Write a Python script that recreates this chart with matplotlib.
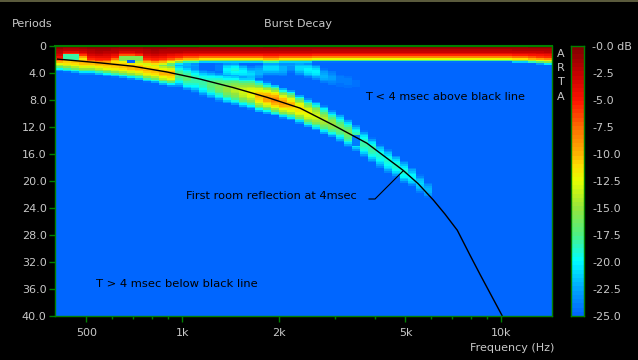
import numpy as np
import matplotlib
matplotlib.use("Agg")
import matplotlib.pyplot as plt
from matplotlib.colors import LinearSegmentedColormap
from matplotlib.lines import Line2D
from matplotlib.patches import Rectangle
from matplotlib.ticker import FixedLocator, NullFormatter, FixedFormatter

W, H = 638, 360
FONT = "DejaVu Sans"
GREEN = "#008000"
GREY = "#c8c8c8"

f_min, f_max = 398.4, 14400.0
n_cols = 62

# direct-sound band: depth (periods) at which it has decayed to -25 dB, per column
direct_edge = [3.3, 2.0, 2.0, 2.3, 3.3, 3.5, 3.4, 2.9, 2.2, 2.2, 2.4, 3.3, 3.5, 3.3, 3.0, 2.8,
               2.6, 2.6, 2.5, 2.5, 2.5, 2.5, 2.5, 2.5, 2.5, 2.5, 2.6, 2.6, 2.5, 2.5, 2.5, 2.5,
               2.4, 2.4, 2.4, 2.4, 2.4, 2.4, 2.4, 2.4, 2.4, 2.4, 2.4, 2.4, 2.4, 2.4, 2.4, 2.4,
               2.4, 2.4, 2.4, 2.4, 2.4, 2.4, 2.4, 2.4, 2.4, 2.5, 2.5, 2.6, 2.7, 2.8]

# reflection ridge, per column (47 columns, then nothing)
ridge_center = [1.93, 2.07, 2.22, 2.37, 2.37, 2.52, 2.67, 2.81, 2.96, 3.11, 3.26, 3.56, 3.70, 4.0, 4.15,
                4.3, 4.74, 5.04, 5.48, 5.78, 6.07, 6.37, 6.52, 6.81, 6.96, 7.41, 7.7, 8.0, 8.44, 8.74,
                9.33, 9.93, 10.37, 10.96, 11.56, 12.15, 12.89, 13.63, 14.52, 15.41, 16.3, 17.04, 17.78,
                18.67, 19.4, 20.44, 21.33]
ridge_half = [1.85] * 15 + [1.8, 1.9, 1.9, 2.0, 2.1, 2.2, 2.3, 2.4, 2.4, 2.5, 2.5, 2.4, 2.4, 2.3, 2.3,
              2.2, 2.2, 2.2, 2.2, 2.1, 2.1, 2.1, 2.0, 2.0, 1.9, 1.8, 1.8, 1.7, 1.7, 1.5, 1.4, 1.2]
ridge_peak = [-10.0] * 15 + [-17, -17, -18, -18, -17, -16, -15, -14, -13, -12, -10, -9, -8.5, -9, -10,
              -11, -12, -13, -14, -15, -16, -16, -17, -18, -18, -19, -19, -19, -19, -20, -21, -22]

# faint secondary streak between the band and the ridge, from column 14
second_center = [2.67, 2.67, 2.81, 2.96, 2.96, 2.96, 3.26, 3.56, 3.56, 3.85, 4.15, 3.85,
                 3.26, 3.26, 3.41, 2.96, 3.26, 3.56, 3.85, 4.44, 4.74, 5.04, 5.33, 5.48]
second_peak = [-19, -22, -22, -23, -25, -25, -24, -20, -19, -20, -21, -22,
               -21, -21, -22, -23, -21, -20, -20, -22, -23, -24, -24, -24.5]
second_half = 1.2

# small local dips: column, from period, to period, level
dip_col = [1, 2, 8, 9, 9, 10, 37]
dip_from = [1.3, 1.3, 1.6, 1.6, 2.0, 1.6, 13.3]
dip_to = [1.9, 1.9, 2.3, 2.0, 2.4, 2.3, 14.8]
dip_db = [-18, -18, -16, -16, -25, -16, -24]

# decay shape of the direct band: fraction of its depth, level in dB
band_frac = [0.0, 0.35, 0.6, 0.72, 0.82, 0.92, 1.0]
band_db = [-0.5, -2.5, -6.0, -10.0, -14.0, -19.0, -25.0]

# 4 msec line drawn over the plot
line_freq = [404, 551, 700, 894, 1135, 1440, 1840, 2335, 2965, 3785, 4910, 5480, 6110, 6650, 7270, 7970, 8580, 10060]
line_period = [1.93, 2.5, 3.0, 3.85, 4.9, 6.15, 7.6, 9.2, 11.7, 14.4, 18.4, 20.4, 22.8, 24.9, 27.3, 31.0, 33.9, 40.0]

# axis ticks
x_major = [500, 1000, 2000, 5000, 10000]
x_labels = ["500", "1k", "2k", "5k", "10k"]
x_minor = [600, 700, 800, 900, 3000, 4000, 6000, 7000, 8000, 9000]
y_ticks = [0, 4, 8, 12, 16, 20, 24, 28, 32, 36, 40]
y_labels = ["0", "4.0", "8.0", "12.0", "16.0", "20.0", "24.0", "28.0", "32.0", "36.0", "40.0"]
cbar_ticks = [0, -2.5, -5, -7.5, -10, -12.5, -15, -17.5, -20, -22.5, -25]
cbar_labels = ["-0.0 dB", "-2.5", "-5.0", "-7.5", "-10.0", "-12.5", "-15.0", "-17.5", "-20.0", "-22.5", "-25.0"]

# colour scale
scale_db = [-25, -22.5, -20, -17.5, -15, -12.5, -11, -10, -7.5, -5, -2.5, 0]
scale_col = ["#0066ff", "#00aaff", "#00ffff", "#50f082", "#96e63c", "#e6ff00", "#ffdc00", "#ffb400",
             "#ff6e00", "#ff1400", "#c80000", "#800000"]

cmap = LinearSegmentedColormap.from_list(
    "arta", [((d + 25) / 25, c) for d, c in zip(scale_db, scale_col)], N=64)

# assemble the level grid
f_edges = np.geomspace(f_min, f_max, n_cols + 1)
p_edges = np.arange(0, 40.01, 0.25)
p_mid = 0.5 * (p_edges[:-1] + p_edges[1:])
Z = np.full((len(p_mid), n_cols), -25.0)
for c in range(n_cols):
    col = np.interp(p_mid / direct_edge[c], band_frac, band_db)
    if c < len(ridge_center):
        d = np.abs(p_mid - ridge_center[c]) / ridge_half[c]
        col = np.maximum(col, np.where(d < 1, ridge_peak[c] + (-25 - ridge_peak[c]) * d ** 1.8, -25))
    if 14 <= c < 14 + len(second_center):
        d = np.abs(p_mid - second_center[c - 14]) / second_half
        pk = second_peak[c - 14]
        col = np.maximum(col, np.where(d < 1, pk + (-25 - pk) * d ** 1.8, -25))
    Z[:, c] = col
for c, a, b, v in zip(dip_col, dip_from, dip_to, dip_db):
    m = (p_mid >= a) & (p_mid < b)
    Z[m, c] = v

fig = plt.figure(figsize=(W / 100, H / 100), dpi=100, facecolor="black")


def box(x0, y0, x1, y1):
    return [x0 / W, 1 - y1 / H, (x1 - x0) / W, (y1 - y0) / H]


def ptext(x, y, s, color=GREY, ha="left", size=8.0):
    fig.text(x / W, 1 - y / H, s, color=color, ha=ha, va="center", fontsize=size, family=FONT)


ax = fig.add_axes(box(55, 46, 552, 316))
ax.set_facecolor("#0066ff")
ax.pcolormesh(f_edges, p_edges, Z, cmap=cmap, vmin=-25, vmax=0, shading="flat", linewidth=0, antialiased=False)
ax.set_xscale("log")
ax.set_xlim(f_min, f_max)
ax.set_ylim(40, 0)
ax.plot(line_freq, line_period, color="black", lw=1.0, solid_capstyle="butt")
for s in ax.spines.values():
    s.set_color(GREEN)
    s.set_linewidth(1.0)
ax.spines["top"].set_linewidth(1.5)
ax.xaxis.set_major_locator(FixedLocator(x_major))
ax.xaxis.set_major_formatter(FixedFormatter(x_labels))
ax.xaxis.set_minor_locator(FixedLocator(x_minor))
ax.xaxis.set_minor_formatter(NullFormatter())
ax.set_yticks(y_ticks)
ax.set_yticklabels(y_labels)
ax.tick_params(axis="x", which="major", colors=GREEN, length=4, width=1, labelcolor=GREY, labelsize=8, pad=5)
ax.tick_params(axis="x", which="minor", colors=GREEN, length=2, width=1)
ax.tick_params(axis="y", which="major", colors=GREEN, length=4, width=1, labelcolor=GREY, labelsize=8, pad=2)
for t in ax.get_xticklabels() + ax.get_yticklabels():
    t.set_family(FONT)

cax = fig.add_axes(box(571, 46, 584, 316))
grad = np.linspace(0, -25, 64).reshape(-1, 1)
cax.imshow(grad, cmap=cmap, vmin=-25, vmax=0, aspect="auto", extent=[0, 1, -25, 0], interpolation="nearest")
for s in cax.spines.values():
    s.set_color(GREEN)
    s.set_linewidth(1.0)
cax.set_xticks([])
cax.yaxis.tick_right()
cax.set_yticks(cbar_ticks)
cax.set_yticklabels(cbar_labels)
cax.tick_params(axis="y", length=0, pad=6, labelcolor=GREY, labelsize=8)
for t in cax.get_yticklabels():
    t.set_family(FONT)

ptext(12, 24, "Periods")
ptext(298, 24, "Burst Decay", ha="center")
ptext(470, 348, "Frequency (Hz)")
ptext(561, 54, "A", ha="center")
ptext(561, 68, "R", ha="center")
ptext(561, 82, "T", ha="center")
ptext(561, 97, "A", ha="center")
ptext(365, 97, "T < 4 msec above black line", color="black", size=8.15)
ptext(96, 284, "T > 4 msec below black line", color="black", size=8.25)
ptext(186, 196, "First room reflection at 4msec", color="black", size=8.2)

fig.add_artist(Line2D([369 / W, 375 / W, 403 / W], [1 - 199 / H, 1 - 199 / H, 1 - 171 / H],
                      color="black", lw=0.8, transform=fig.transFigure))
fig.add_artist(Rectangle((0, 1 - 1.5 / H), 1, 1.5 / H, color="#5a5a3c", transform=fig.transFigure, lw=0))

fig.savefig("out.png", dpi=100, facecolor="black")
